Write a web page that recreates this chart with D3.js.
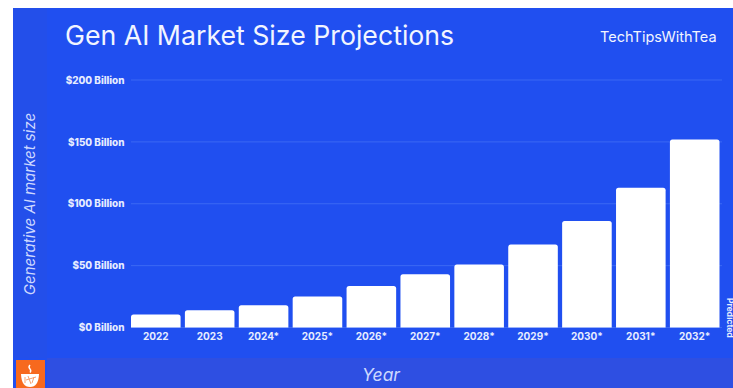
<!DOCTYPE html>
<html><head><meta charset="utf-8">
<script src="https://cdnjs.cloudflare.com/ajax/libs/d3/7.8.5/d3.min.js"></script>
<style>html,body{margin:0;padding:0;background:#fff}svg{display:block}text{font-family:"Inter",sans-serif}</style>
</head><body><div id="c"></div>
<script>
const years = ["2022","2023","2024*","2025*","2026*","2027*","2028*","2029*","2030*","2031*","2032*"];
const marketSize = [10.5,14,18,25,33.5,43,51,67,86,113,152];
const yTicks = [0,50,100,150,200];

const W = 733, H = 388;
const svg = d3.select("#c").append("svg").attr("width",W).attr("height",H);

// Panel backgrounds: main area, side strip, bottom band
svg.append("rect").attr("x",13).attr("y",8).attr("width",W-13).attr("height",H-8).attr("fill","#204ff0");
svg.append("rect").attr("x",13).attr("y",8).attr("width",34).attr("height",350).attr("fill","#234fea");
svg.append("rect").attr("x",47).attr("y",358).attr("width",W-47).attr("height",30).attr("fill","#2e4fe2");
svg.append("rect").attr("x",13).attr("y",358).attr("width",34).attr("height",30).attr("fill","#204ff0");

const x = d3.scaleBand().domain(years).range([131,719.5]).paddingInner(0.08).paddingOuter(0);
const y = d3.scaleLinear().domain([0,200]).range([327.5,80]);

// Gridlines and dollar labels on the value axis
svg.append("g").selectAll("line").data(yTicks).join("line")
  .attr("x1",131).attr("x2",722).attr("y1",d=>y(d)).attr("y2",d=>y(d))
  .attr("stroke","#3b68f4").attr("stroke-width",1);
const yAxis = d3.axisLeft(y).tickValues(yTicks).tickSize(0).tickPadding(0).tickFormat(d=>"$"+d+" Billion");
const gy = svg.append("g").attr("transform","translate(124.5,0)").call(yAxis);
gy.select(".domain").remove();
gy.selectAll("text").attr("fill","#e6ecff").attr("font-size",9.9).attr("font-weight",800);

// One rounded-top bar per year
svg.append("g").selectAll("path").data(years).join("path")
  .attr("fill","#fff")
  .attr("d",(d,i)=>{
    const x0=x(d),w=x.bandwidth(),t=y(marketSize[i]),b=y(0),r=2.5;
    return `M${x0},${b}V${t+r}Q${x0},${t} ${x0+r},${t}H${x0+w-r}Q${x0+w},${t} ${x0+w},${t+r}V${b}Z`;
  });

const xAxis = d3.axisBottom(x).tickSize(0).tickPadding(0);
const gx = svg.append("g").attr("transform","translate(0,333)").call(xAxis);
gx.select(".domain").remove();
gx.selectAll("text").attr("fill","#e6ecff").attr("font-size",10).attr("font-weight",700);

svg.append("text").attr("x",65).attr("y",45).attr("fill","#f2f5ff").attr("font-size",26.7).attr("font-weight",400).text("Gen AI Market Size Projections");
svg.append("text").attr("x",600).attr("y",42).attr("fill","#f2f5ff").attr("font-size",14.5).text("TechTipsWithTea");
svg.append("text").attr("transform","translate(35,204) rotate(-90)").attr("text-anchor","middle").attr("fill","#cdd8ff").attr("font-size",15).attr("font-style","italic").text("Generative AI market size");
svg.append("text").attr("x",381).attr("y",381).attr("text-anchor","middle").attr("fill","#cdd8ff").attr("font-size",17.5).attr("font-style","italic").text("Year");
svg.append("text").attr("transform","translate(727,298) rotate(90)").attr("fill","#e6ecff").attr("font-size",8.5).attr("font-weight",700).text("Predicted");

// Orange badge with a steaming teacup
const badge = svg.append("g");
badge.append("rect").attr("x",16).attr("y",360).attr("width",29).attr("height",28).attr("fill","#f7691e");
badge.append("path").attr("d","M21,374H39Q38.5,387 30,387Q21.5,387 21,374Z").attr("fill","#fff");
badge.append("path").attr("d","M30,365Q28,367 30,369Q31.5,371 30,372.5").attr("fill","none").attr("stroke","#fff").attr("stroke-width",1.4);
badge.append("path").attr("d","M25,377V383M28,376L31,384M34,377L32,383M36,377L26,380").attr("fill","none").attr("stroke","#f7a070").attr("stroke-width",1);
</script></body></html>
